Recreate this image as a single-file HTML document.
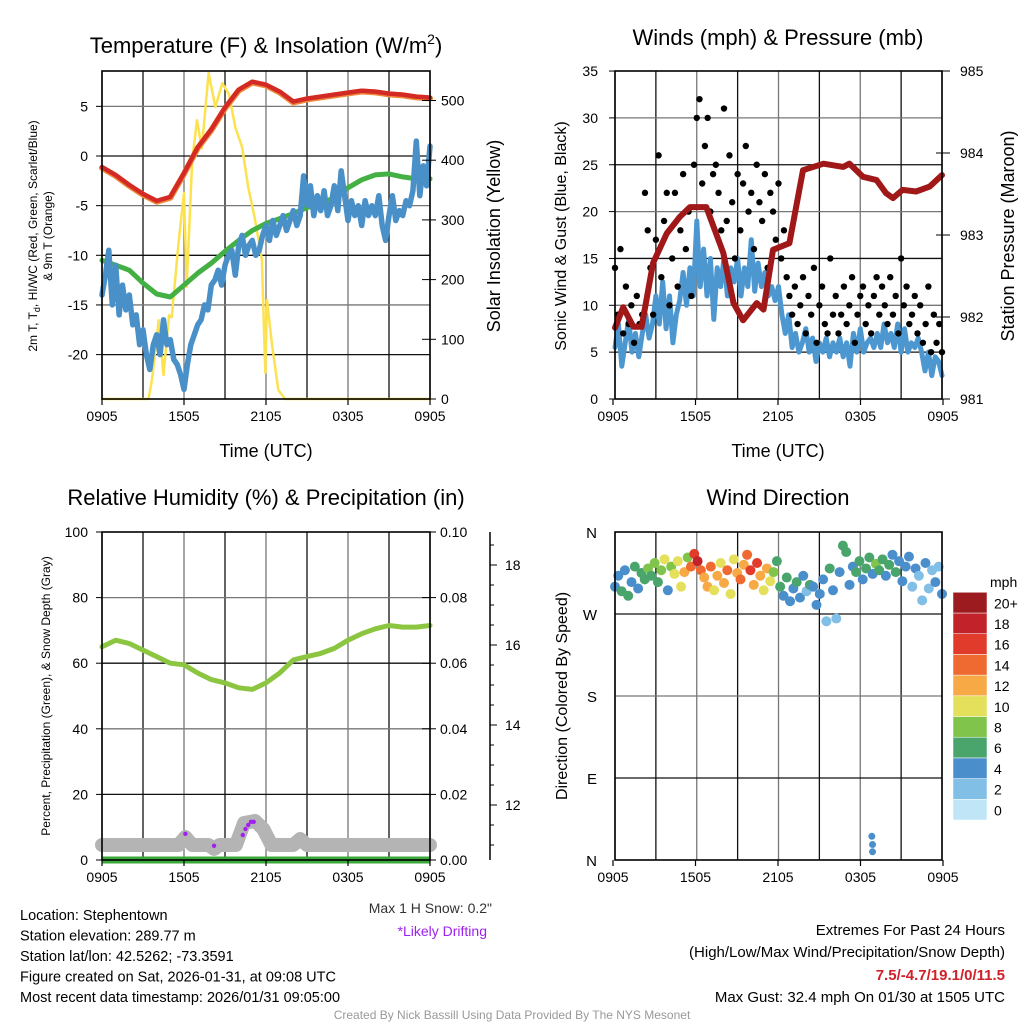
<!DOCTYPE html>
<html><head><meta charset="utf-8"><style>
body{margin:0;background:#fff;}
svg{display:block;font-family:"Liberation Sans",Arial,sans-serif;}
</style></head><body>
<svg id="c" width="1024" height="1024" viewBox="0 0 1024 1024"></svg>
<script>
// ---------- DATA ----------
const timeTicks = ["0905","1505","2105","0305","0905"];
const tempVals = [-1.2,-2,-3,-3.9,-4.6,-4.2,-1.8,0.8,2.6,4.8,6.6,7.4,7.1,6.4,5.4,5.7,5.9,6.1,6.3,6.5,6.4,6.2,6.1,5.9,5.8];
const dewVals = [-10.5,-11,-11.5,-12.8,-13.9,-14.2,-13,-11.8,-10.8,-9.6,-8.5,-7.5,-6.8,-6.3,-5.8,-5.2,-4.8,-4.2,-3.2,-2.4,-1.9,-1.8,-2.1,-2.3,-2.3];
const wcVals = [-14,-12,-9.5,-15,-11,-16,-13,-15.5,-14,-17,-16,-19,-17.5,-20,-21.5,-19,-18,-20,-16.5,-19,-18.5,-20.5,-21,-22,-23.5,-21,-19,-18,-17,-16.5,-15,-15.5,-13,-12.5,-11.5,-13,-11,-10,-9.5,-12,-9,-8,-10,-9,-8.5,-10,-9.5,-8,-7,-8.5,-6.5,-8,-7,-6,-7.5,-6.5,-5.5,-7,-6,-2,-5,-3,-6,-4,-5.5,-3.5,-6,-5,-3,-5.5,-1.5,-4,-6.5,-4.5,-6,-5,-7,-4.5,-6,-5,-6,-4,-7,-8.5,-6,-4,-6.5,-5.5,-6,-4.5,-5,-3.5,1.5,-4,-1,-3,1];
const solarTimes = [0,3.4,3.66,4.15,4.5,4.9,5.1,5.6,6.0,6.2,6.6,6.95,7.3,7.8,8.3,8.8,9.3,9.75,10.25,10.7,11.2,11.7,11.95,12.07,12.45,12.9,13.4,24];
const solarVals = [0,0,32,132,40,140,137,261,345,188,400,467,420,546,489,529,510,455,422,355,300,233,44,166,90,15,0,0];
const windVals = [5.5,8,3.5,6,8.5,5,7,4.5,7,9,6.5,8,11,8,12.5,7.5,11,6,9,10.5,13.5,10,14,11,19,12,16,11,15,8.5,14,12,15,11,14,12.5,15,11,14,12,17,11.5,14.5,12,13.5,11,12,10.5,12,9,7,9,5.5,7,5,6,7.5,5,6.5,4,6,5,6.5,4.5,6,5,6.5,4.5,6,3.5,7,5,7.5,5,6,6.5,5.5,7,5.5,8,6,7,5.5,8,5,7.5,5,6,5.5,6.5,5,3,5,2.5,4.5,4,2.5];
const gustVals = [14,9,16,7,12,8,10,6,11,8,9,22,18,14,9,17,26,13,19,22,10,15,22,12,18,24,16,20,11,25,30,32,23,27,30,20,24,25,22,18,31,19,26,21,15,24,18,23,27,20,22,16,25,21,19,24,14,22,20,17,23,15,18,13,11,9,12,8,10,13,7,11,9,14,6,10,12,8,7,15,9,11,7,9,12,8,10,13,6,9,11,12,8,10,7,11,13,9,12,10,8,13,9,11,7,15,10,12,8,9,11,7,10,6,8,12,5,9,6,8,5];
const presTimes = [0,0.6,1.35,1.95,2.8,3.8,4.75,5.5,6.7,7.95,8.7,9.4,10.4,10.9,11.6,12.8,13.8,15.3,16.75,17.2,18.2,19.2,19.9,20.4,21.1,22.1,23.1,24];
const presVals = [981.87,982.12,981.88,981.88,982.66,983.02,983.22,983.34,983.34,982.78,982.17,981.96,982.17,982.09,982.82,982.9,983.79,983.87,983.83,983.87,983.71,983.67,983.51,983.45,983.55,983.53,983.59,983.73];
const rhVals = [65,67,66,64,62,60,59.5,57,55,54,52.5,52,54,57,61,62,63,64.5,67,69,70.5,71.5,71,71,71.5];
const snowTimes = [0,5.6,6.1,6.6,7.8,8.2,8.6,9.8,10.4,11.2,11.8,12.4,14,14.5,15,24];
const snowVals = [11.0,11.0,11.2,11.0,11.0,10.9,11.0,11.0,11.55,11.6,11.4,11.0,11.0,11.15,11.0,11.0];
const driftTimes = [6.1,8.2,10.3,10.5,10.7,10.9,11.1];
const driftVals = [11.28,10.98,11.25,11.4,11.5,11.58,11.58];
const dirVals = [300,312,295,318,290,305,322,298,315,308,320,312,326,305,318,330,296,322,314,328,300,316,332,322,336,328,318,310,300,322,296,312,326,304,318,292,330,315,308,324,335,318,302,326,312,296,320,306,316,328,300,290,310,284,298,305,288,312,295,302,300,280,292,308,262,320,296,265,316,345,338,302,322,316,328,308,320,332,314,325,318,330,312,324,335,316,328,306,322,333,300,320,312,285,326,298,318,305,322,292];
const dirSpd = [5,4,6,5,7,4,6,5,7,6,8,7,9,6,8,10,5,9,11,10,11,12,9,14,17,18,15,13,12,14,11,13,10,12,14,11,10,13,15,12,14,17,13,16,12,10,13,11,9,7,6,5,7,4,5,6,4,5,3,6,4,5,4,4,2,6,5,2,4,7,6,4,5,7,6,4,7,6,5,8,6,7,5,6,4,6,5,4,5,4,3,4,2,2,4,3,2,4,3,4];
const dirExtraTimes = [18.85,18.9,18.9];
const dirExtraVals = [26,17,9];
const dirExtraSpd = [5,4,5];
const speedBins = ["0","2","4","6","8","10","12","14","16","18","20+"];
const speedColors = ["#bfe5f7","#82bfe6","#4a8fcb","#4aa56c","#80c44b","#e5e05c","#f7a945","#ee6a30","#e13b2b","#c2222a","#9c1b1f"];

// ---------- HELPERS ----------
const svg = document.getElementById('c');
const NS = 'http://www.w3.org/2000/svg';
function mk(tag, attrs, parent){ const e=document.createElementNS(NS,tag); for(const k in attrs) e.setAttribute(k,attrs[k]); (parent||svg).appendChild(e); return e; }
function txt(s,x,y,size,anchor,parent,extra){ const t=mk('text',Object.assign({x:x,y:y,'font-size':size,'text-anchor':anchor||'start',fill:'#000'},extra||{}),parent); t.textContent=s; return t; }
function poly(pts,stroke,w,parent){ return mk('polyline',{points:pts.map(p=>p[0].toFixed(1)+','+p[1].toFixed(1)).join(' '),fill:'none',stroke:stroke,'stroke-width':w,'stroke-linejoin':'round','stroke-linecap':'round'},parent); }
function even(arr){ return arr.map((v,i)=>i*24/(arr.length-1)); }

function frame(g,L,T,R,B,hLines){
  const xs=[];for(let i=0;i<=8;i++)xs.push(L+(R-L)*i/8);
  xs.forEach((x,i)=>{ const l=mk('line',{x1:x,y1:T,x2:x,y2:B,stroke:i%2?'#111':'#777','stroke-width':1.3},g);
     });
  hLines.forEach((y,i)=>{ const l=mk('line',{x1:L,y1:y,x2:R,y2:y,stroke:i%2?'#777':'#111','stroke-width':1.3},g);
     });
}
function border(g,L,T,R,B){ mk('rect',{x:L,y:T,width:R-L,height:B-T,fill:'none',stroke:'#000','stroke-width':1.6},g); }
function xTicks(g,L,R,B){ timeTicks.forEach((s,i)=>{ const x=L+(R-L)*i/4; mk('line',{x1:x,y1:B,x2:x,y2:B+6,stroke:'#000','stroke-width':1.2},g); const t=txt(s,x,B+22,14,'middle',g);
   }); }

// ---------- PANEL 1 ----------
const p1=mk('g',{});  
const x1=h=>102+h*328/24, yT=v=>156-v*9.93, yS=w=>399-w*0.597;
frame(p1,102,71,430,399,[-20,-15,-10,-5,0,5].map(yT));
const sol=poly(solarTimes.map((t,i)=>[x1(t),yS(solarVals[i])]),'#fde24f',2.5,p1);  
const dw=poly(even(dewVals).map((t,i)=>[x1(t),yT(dewVals[i])]),'#43b043',5,p1);  
const wc=poly(even(wcVals).map((t,i)=>[x1(t),yT(wcVals[i])]),'#4a90c8',5.5,p1);  
const tp=poly(even(tempVals).map((t,i)=>[x1(t),yT(tempVals[i])]),'#f08a3a',6,p1);  
const tp2=poly(even(tempVals).map((t,i)=>[x1(t),yT(tempVals[i])-0.8]),'#d42a26',4.5,p1);  
border(p1,102,71,430,399); xTicks(p1,102,430,399);
[5,0,-5,-10,-15,-20].forEach(v=>{ txt(String(v),88,yT(v)+5,14,'end',p1); mk('line',{x1:96,y1:yT(v),x2:102,y2:yT(v),stroke:'#000'},p1);});
[0,100,200,300,400,500].forEach(v=>{ txt(String(v),441,yS(v)+5,14,'start',p1); mk('line',{x1:422,y1:yS(v),x2:436,y2:yS(v),stroke:'#000'},p1);});
const t1=txt('',266,53,22,'middle',p1);  
t1.innerHTML='Temperature (F) &amp; Insolation (W/m<tspan dy="-9" font-size="14">2</tspan><tspan dy="9">)</tspan>';
txt('Time (UTC)',266,457,18,'middle',p1);
const yl1=mk('g',{},p1);
txt('2m T, T',0,0,12,'middle',yl1,{transform:'translate(37,236) rotate(-90)'}).innerHTML='2m T, T<tspan font-size="9" dy="3">d</tspan><tspan dy="-3">,  HI/WC (Red, Green, Scarlet/Blue)</tspan>';
txt('& 9m T (Orange)',0,0,12,'middle',yl1,{transform:'translate(52,236) rotate(-90)'});
txt('Solar Insolation (Yellow)',0,0,18,'middle',p1,{transform:'translate(500,236) rotate(-90)'});

// ---------- PANEL 2 ----------
const p2=mk('g',{});  
const x2=h=>615+h*327/24, yW=v=>399-v*9.37, yP=p=>399-(p-981)*82;
frame(p2,615,71,942,399,[5,10,15,20,25,30].map(yW));
const wl=poly(even(windVals).map((t,i)=>[x2(t),yW(windVals[i])]),'#4d97d0',5,p2);  
even(gustVals).forEach((t,i)=>{ const c=mk('circle',{cx:x2(t),cy:yW(gustVals[i]),r:3.2,fill:'#000'},p2);
   });
const pl=poly(presTimes.map((t,i)=>[x2(t),yP(presVals[i])]),'#a01818',6,p2);  
border(p2,615,71,942,399); xTicks(p2,613,943,399);
[0,5,10,15,20,25,30,35].forEach(v=>{ txt(String(v),598,yW(v)+5,14,'end',p2); mk('line',{x1:609,y1:yW(v),x2:615,y2:yW(v),stroke:'#000'},p2);});
[981,982,983,984,985].forEach(v=>{ txt(String(v),960,yP(v)+5,14,'start',p2); mk('line',{x1:936,y1:yP(v),x2:950,y2:yP(v),stroke:'#000'},p2);});
txt('Winds (mph) & Pressure (mb)',778,45,22,'middle',p2);
txt('Time (UTC)',778,457,18,'middle',p2);
txt('Sonic Wind & Gust (Blue, Black)',0,0,16,'middle',p2,{transform:'translate(566,236) rotate(-90)'});
txt('Station Pressure (Maroon)',0,0,18,'middle',p2,{transform:'translate(1014,236) rotate(-90)'});

// ---------- PANEL 3 ----------
const p3=mk('g',{});  
const yR=v=>860-v*3.28, ySn=s=>805-(s-12)*40;
frame(p3,102,532,430,860,[20,40,60,80].map(yR));
const sn=poly(snowTimes.map((t,i)=>[x1(t),ySn(snowVals[i])]),'#b4b4b4',14,p3);  
const pr=mk('line',{x1:102,y1:860,x2:430,y2:860,stroke:'#3aa83a','stroke-width':7},p3);  
driftTimes.forEach((t,i)=>{ const c=mk('circle',{cx:x1(t),cy:ySn(driftVals[i]),r:2.2,fill:'#a020f0'},p3);
   });
const rl=poly(even(rhVals).map((t,i)=>[x1(t),yR(rhVals[i])]),'#8cc641',5,p3);  
border(p3,102,532,430,860); xTicks(p3,102,430,860);
[0,20,40,60,80,100].forEach(v=>{ txt(String(v),88,yR(v)+5,14,'end',p3); mk('line',{x1:96,y1:yR(v),x2:102,y2:yR(v),stroke:'#000'},p3);});
['0.00','0.02','0.04','0.06','0.08','0.10'].forEach((s,i)=>{ const y=yR(i*20); txt(s,440,y+5,14,'start',p3); mk('line',{x1:422,y1:y,x2:436,y2:y,stroke:'#000'},p3);});
mk('line',{x1:490,y1:532,x2:490,y2:860,stroke:'#000','stroke-width':1.5},p3);
for(let s=11;s<=18.5;s+=0.5){ mk('line',{x1:490,y1:ySn(s),x2:s%2===0?497:494,y2:ySn(s),stroke:'#000'},p3); }
[12,14,16,18].forEach(v=>txt(String(v),505,ySn(v)+5,14,'start',p3));
txt('Relative Humidity (%) & Precipitation (in)',266,505,22,'middle',p3);
txt('Percent, Precipitation (Green), & Snow Depth (Gray)',0,0,12,'middle',p3,{transform:'translate(50,696) rotate(-90)'});
txt('Max 1 H Snow: 0.2"',492,913,14,'end',p3,{fill:'#333'});
txt('*Likely Drifting',487,936,14,'end',p3,{fill:'#a020f0'});

// ---------- PANEL 4 ----------
const p4=mk('g',{});  
const yD=d=>860-d*328/360;
const colOf=s=>speedColors[Math.min(10,Math.floor(s/2))];
frame(p4,615,532,942,860,[90,180,270].map(yD));
even(dirVals).forEach((t,i)=>{ const c=mk('circle',{cx:x2(t),cy:yD(dirVals[i]),r:5,fill:colOf(dirSpd[i])},p4);
   });
dirExtraTimes.forEach((t,i)=>{ const c=mk('circle',{cx:x2(t),cy:yD(dirExtraVals[i]),r:3.5,fill:colOf(dirExtraSpd[i])},p4);
   });
border(p4,615,532,942,860); xTicks(p4,613,943,860);
['N','E','S','W','N'].forEach((s,i)=>txt(s,597,yD(i*90)+6,15,'end',p4));
txt('Wind Direction',778,505,22,'middle',p4);
txt('Direction (Colored By Speed)',0,0,16,'middle',p4,{transform:'translate(567,696) rotate(-90)'});
const cb=mk('g',{},p4);  
speedColors.forEach((c,i)=>{ const y=820-(i+1)*20.7; mk('rect',{x:953,y:y,width:34,height:20.7,fill:c,stroke:'#fff','stroke-width':0.5},cb); txt(speedBins[i],994,y+16,14,'start',cb);});
txt('mph',990,587,14,'start',cb);

// ---------- FOOTER ----------
const ft=mk('g',{});  
['Location: Stephentown','Station elevation: 289.77 m','Station lat/lon: 42.5262; -73.3591','Figure created on Sat, 2026-01-31, at 09:08 UTC','Most recent data timestamp: 2026/01/31 09:05:00'].forEach((s,i)=>txt(s,20,920+i*20.5,14.5,'start',ft));
const ex=mk('g',{});  
txt('Extremes For Past 24 Hours',1005,935,15,'end',ex);
txt('(High/Low/Max Wind/Precipitation/Snow Depth)',1005,957,15,'end',ex);
txt('7.5/-4.7/19.1/0/11.5',1005,980,15,'end',ex,{fill:'#d0202a','font-weight':'bold'});
txt('Max Gust: 32.4 mph On 01/30 at 1505 UTC',1005,1002,15,'end',ex);
txt('Created By Nick Bassill Using Data Provided By The NYS Mesonet',512,1019,12,'middle',svg,{fill:'#999'});
</script>
</body></html>
